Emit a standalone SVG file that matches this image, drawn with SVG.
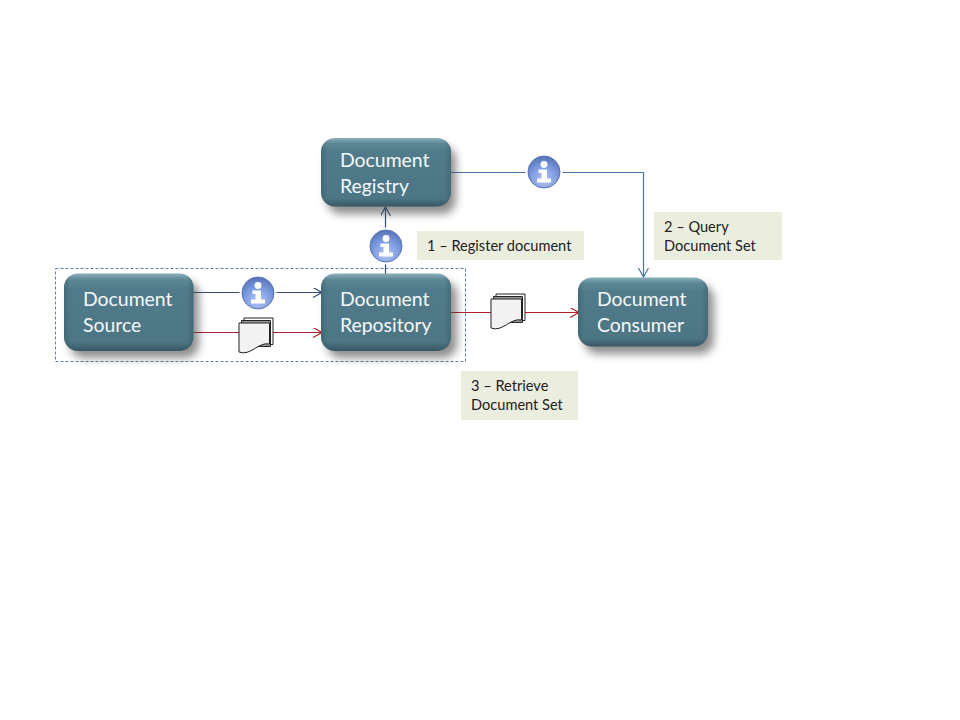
<svg xmlns="http://www.w3.org/2000/svg" xmlns:xlink="http://www.w3.org/1999/xlink" width="960" height="720" viewBox="0 0 960 720">
<style>
text{font-family:Lato,"Open Sans",sans-serif}
.nt{font-size:19.4px;fill:#f4f8f9}
.lt{font-size:14.6px;fill:#222}
.lb{fill:#ebeedf}
.blue{fill:none;stroke:#2f4f73;stroke-width:1.2}
.lblue{fill:none;stroke:#4a74a8;stroke-width:1.2}
.red{fill:none;stroke:#b0202a;stroke-width:1.2}
.shadow{fill:#444;opacity:.6}
.bevel{fill:url(#side)}
</style>
<defs>
<linearGradient id="body" x1="0" y1="0" x2="0" y2="1">
<stop offset="0" stop-color="#8bb0ba"/><stop offset=".08" stop-color="#5c8896"/><stop offset=".2" stop-color="#517b8a"/><stop offset=".88" stop-color="#4d7685"/><stop offset="1" stop-color="#375663"/>
</linearGradient>
<linearGradient id="side" x1="0" y1="0" x2="1" y2="0">
<stop offset="0" stop-color="#2f4d58" stop-opacity=".35"/><stop offset=".05" stop-color="#2f4d58" stop-opacity="0"/><stop offset=".95" stop-color="#2f4d58" stop-opacity="0"/><stop offset="1" stop-color="#2f4d58" stop-opacity=".35"/>
</linearGradient>
<radialGradient id="ball" cx=".5" cy=".75" r=".8">
<stop offset="0" stop-color="#b3c5f2"/><stop offset=".5" stop-color="#7f9de0"/><stop offset="1" stop-color="#4f6cb4"/>
</radialGradient>
<filter id="sh" x="-20%" y="-25%" width="150%" height="170%"><feGaussianBlur stdDeviation="4.500"/></filter>
<marker id="aB" markerWidth="12" markerHeight="12" refX="10" refY="5" orient="auto" markerUnits="userSpaceOnUse"><path d="M1 0L10 5L1 10" fill="none" stroke="#2f4f73" stroke-width="1.2"/></marker>
<marker id="aL" markerWidth="12" markerHeight="12" refX="10" refY="5" orient="auto" markerUnits="userSpaceOnUse"><path d="M1 0L10 5L1 10" fill="none" stroke="#4a74a8" stroke-width="1.2"/></marker>
<marker id="aR" markerWidth="12" markerHeight="12" refX="10" refY="5" orient="auto" markerUnits="userSpaceOnUse"><path d="M1 0L10 5L1 10" fill="none" stroke="#b0202a" stroke-width="1.2"/></marker>
<g id="info">
<circle r="18.500" fill="#fff"/>
<circle r="16" fill="url(#ball)" stroke="#5a74b0" stroke-width="1"/>
<circle cx="0" cy="-7.500" r="3.400" fill="#fff"/>
<path d="M-5.500 -2.500H3V6.500H7V10.500H-7V6.500H-2.500V1H-5.500Z" fill="#fff"/>
</g>
<g id="docs">
<path d="M5.500 -12.500H34.500V14H5.500Z" fill="#fff" stroke="#222" stroke-width="1"/>
<path d="M3 -10H32V16H3Z" fill="#999" stroke="#222" stroke-width="1"/>
<path d="M0.500 -7.500H31V13.500C20 11 12 26 0.500 21.500Z" fill="#f2f2f2" stroke="#222" stroke-width="1"/>
</g>
</defs>
<rect width="960" height="720" fill="#fff"/>
<rect x="55.500" y="268.500" width="410" height="93" fill="none" stroke="#5b7fa6" stroke-width="1" stroke-dasharray="3 2"/>
<g id="connectors">
<path class="blue" d="M385.500 274V207" marker-end="url(#aB)"/>
<path class="lblue" d="M451 172.500H643.500V277" marker-end="url(#aL)"/>
<path class="blue" d="M193 292.500H322" marker-end="url(#aB)"/>
<path class="red" d="M193 332.500H322" marker-end="url(#aR)"/>
<path class="red" d="M451 312.500H579" marker-end="url(#aR)"/>
</g>
<g id="node-registry"><rect class="shadow" x="327" y="146" width="129" height="68" rx="14" filter="url(#sh)"/><rect x="321" y="138" width="130" height="68.500" rx="14" fill="url(#body)"/><rect class="bevel" x="321" y="138" width="130" height="68.500" rx="14"/><text class="nt" x="340" y="167">Document</text><text class="nt" x="340" y="193">Registry</text></g>
<g id="node-source"><rect class="shadow" x="70" y="281" width="129" height="77" rx="14" filter="url(#sh)"/><rect x="64" y="273.500" width="129.500" height="77.500" rx="14" fill="url(#body)"/><rect class="bevel" x="64" y="273.500" width="129.500" height="77.500" rx="14"/><text class="nt" x="83" y="306">Document</text><text class="nt" x="83" y="332">Source</text></g>
<g id="node-repository"><rect class="shadow" x="327" y="281" width="130" height="77" rx="14" filter="url(#sh)"/><rect x="321" y="273.500" width="130" height="77.500" rx="14" fill="url(#body)"/><rect class="bevel" x="321" y="273.500" width="130" height="77.500" rx="14"/><text class="nt" x="340" y="306">Document</text><text class="nt" x="340" y="332">Repository</text></g>
<g id="node-consumer"><rect class="shadow" x="584" y="285" width="130" height="69" rx="14" filter="url(#sh)"/><rect x="578" y="277.500" width="130" height="69" rx="14" fill="url(#body)"/><rect class="bevel" x="578" y="277.500" width="130" height="69" rx="14"/><text class="nt" x="597" y="306">Document</text><text class="nt" x="597" y="332">Consumer</text></g>
<g id="info-registry"><use xlink:href="#info" x="544" y="172"/></g>
<g id="info-register"><use xlink:href="#info" x="386" y="246"/></g>
<g id="info-source"><use xlink:href="#info" x="258" y="293"/></g>
<g id="docs-source"><use xlink:href="#docs" x="238.500" y="330.500"/></g>
<g id="docs-retrieve"><use xlink:href="#docs" x="490.500" y="306.500"/></g>
<g id="label-1"><rect class="lb" x="417" y="231" width="167" height="29"/><text class="lt" x="427" y="251">1 – Register document</text></g>
<g id="label-2"><rect class="lb" x="654" y="212" width="128" height="48"/><text class="lt" x="664" y="232">2 – Query</text><text class="lt" x="664" y="251">Document Set</text></g>
<g id="label-3"><rect class="lb" x="461" y="371" width="117" height="49"/><text class="lt" x="471" y="391">3 – Retrieve</text><text class="lt" x="471" y="410">Document Set</text></g>
</svg>
